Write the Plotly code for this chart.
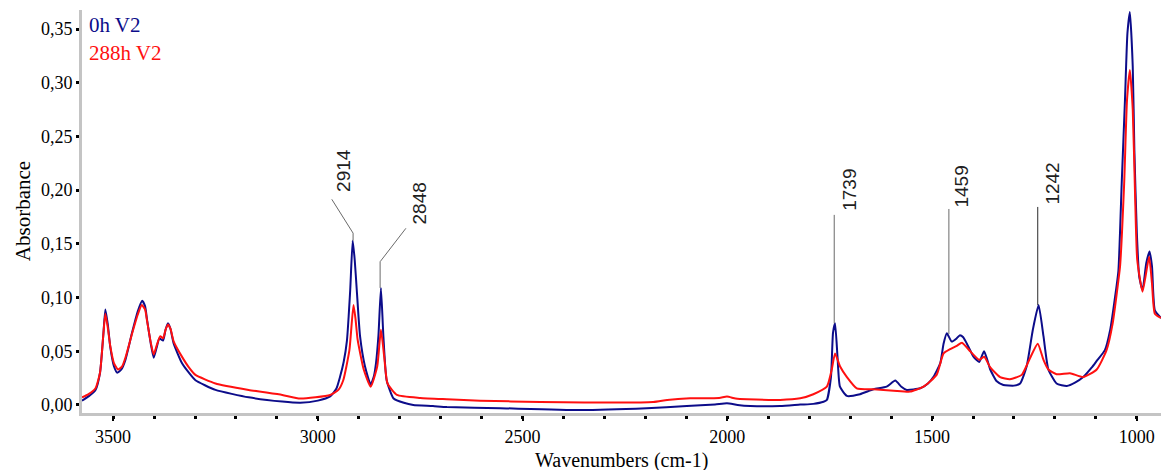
import plotly.graph_objects as go

# ---- data ----
wn_0h = [3576, 3560, 3543, 3532, 3524, 3519, 3513, 3507, 3498, 3490, 3480, 3470, 3454, 3440, 3429, 3422,
         3417, 3408, 3401, 3394, 3387, 3378, 3372, 3366, 3360, 3352, 3332, 3315, 3299, 3250, 3169, 3087,
         3043, 3000, 2970, 2955, 2946, 2937, 2929, 2921, 2915, 2910, 2905, 2897, 2885, 2871, 2863, 2858,
         2852, 2846, 2840, 2832, 2815, 2790, 2767, 2719, 2685, 2555, 2360, 2197, 2099, 2030, 2001, 1975,
         1944, 1871, 1822, 1790, 1765, 1757, 1747, 1742, 1737, 1731, 1725, 1708, 1676, 1643, 1611, 1590,
         1575, 1562, 1529, 1510, 1497, 1480, 1472, 1464, 1452, 1440, 1432, 1424, 1415, 1399, 1385, 1378,
         1373, 1366, 1358, 1342, 1326, 1300, 1285, 1269, 1254, 1240, 1228, 1216, 1196, 1171, 1150, 1131,
         1110, 1098, 1078, 1065, 1053, 1045, 1037, 1029, 1023, 1017, 1010, 1006, 1000, 994, 986, 977,
         969, 963, 956, 941]
abs_0h = [0.004, 0.008, 0.014, 0.030, 0.065, 0.089, 0.075, 0.054, 0.036, 0.030, 0.033, 0.042, 0.067, 0.087, 0.097, 0.092,
          0.079, 0.057, 0.044, 0.053, 0.062, 0.060, 0.070, 0.076, 0.071, 0.057, 0.039, 0.030, 0.023, 0.014, 0.0071, 0.0031,
          0.002, 0.004, 0.008, 0.015, 0.026, 0.040, 0.060, 0.107, 0.153, 0.135, 0.107, 0.064, 0.036, 0.019, 0.027, 0.039,
          0.065, 0.109, 0.064, 0.023, 0.006, 0.002, 0.0, -0.001, -0.002, -0.003, -0.0047, -0.003, -0.001, 0.0005, 0.0016, 0.0,
          -0.001, -0.001, 0.0003, 0.001, 0.003, 0.0047, 0.026, 0.067, 0.076, 0.045, 0.017, 0.0084, 0.010, 0.0146, 0.017, 0.0227,
          0.017, 0.014, 0.0155, 0.020, 0.026, 0.039, 0.057, 0.0667, 0.059, 0.062, 0.065, 0.063, 0.057, 0.045, 0.040, 0.046,
          0.050, 0.043, 0.033, 0.022, 0.0186, 0.018, 0.020, 0.036, 0.070, 0.093, 0.064, 0.033, 0.020, 0.0177, 0.021, 0.026,
          0.035, 0.041, 0.051, 0.070, 0.101, 0.125, 0.206, 0.284, 0.346, 0.366, 0.315, 0.237, 0.160, 0.119, 0.107, 0.132,
          0.143, 0.129, 0.088, 0.081]

wn_288h = [3576, 3560, 3543, 3532, 3524, 3519, 3513, 3507, 3498, 3488, 3478, 3470, 3454, 3440, 3430, 3422,
           3417, 3408, 3401, 3394, 3385, 3378, 3372, 3366, 3360, 3352, 3332, 3315, 3299, 3250, 3169, 3087,
           3043, 2970, 2950, 2938, 2923, 2913, 2908, 2903, 2888, 2871, 2855, 2846, 2838, 2830, 2807, 2750,
           2685, 2604, 2457, 2181, 2147, 2091, 2020, 2001, 1980, 1952, 1871, 1822, 1790, 1757, 1745, 1737,
           1725, 1708, 1684, 1643, 1594, 1554, 1521, 1489, 1472, 1456, 1440, 1427, 1407, 1385, 1373, 1358,
           1334, 1310, 1281, 1261, 1242, 1228, 1216, 1196, 1163, 1131, 1098, 1074, 1059, 1045, 1041, 1031,
           1024, 1017, 1010, 1004, 999, 986, 970, 963, 956, 941]
abs_288h = [0.007, 0.010, 0.0155, 0.030, 0.065, 0.085, 0.072, 0.055, 0.039, 0.033, 0.036, 0.044, 0.066, 0.084, 0.093, 0.089,
            0.078, 0.058, 0.047, 0.055, 0.064, 0.062, 0.070, 0.075, 0.071, 0.059, 0.045, 0.035, 0.028, 0.020, 0.014, 0.0093,
            0.006, 0.0093, 0.014, 0.023, 0.051, 0.093, 0.080, 0.061, 0.033, 0.017, 0.036, 0.070, 0.045, 0.020, 0.0093, 0.0065,
            0.0053, 0.004, 0.0028, 0.0028, 0.0047, 0.0062, 0.0065, 0.0078, 0.006, 0.0053, 0.0047, 0.0062, 0.010, 0.017, 0.033, 0.048,
            0.036, 0.026, 0.0155, 0.0146, 0.0133, 0.0124, 0.017, 0.028, 0.048, 0.052, 0.055, 0.058, 0.050, 0.042, 0.045, 0.035,
            0.026, 0.024, 0.028, 0.0435, 0.057, 0.042, 0.033, 0.0286, 0.0295, 0.026, 0.033, 0.051, 0.076, 0.116, 0.129, 0.206,
            0.284, 0.312, 0.275, 0.191, 0.135, 0.1055, 0.138, 0.113, 0.085, 0.081]

series_names = ["0h V2", "288h V2"]
series_colors = ["#0c0c8a", "#ff1010"]

x_ticks = [3500, 3000, 2500, 2000, 1500, 1000]

# peak labels: wavenumber, peak absorbance, leader-top absorbance
peak_labels = [2914, 2848, 1739, 1459, 1242]
peak_abs = [0.153, 0.109, 0.076, 0.066, 0.093]
leader_top = [0.160, 0.1334, 0.177, 0.1825, 0.1844]
# diagonal leader end (for the two CH peaks) and text centre positions
leader_end_wn = [2966, 2785, None, None, None]
leader_end_abs = [0.1915, 0.1645, None, None, None]
text_wn = [2936, 2752, 1702, 1427, 1207]
text_abs = [0.218, 0.188, 0.2007, 0.2034, 0.2062]

SERIF = "Liberation Serif"
SANS = "Liberation Sans"

fig = go.Figure()
fig.add_trace(go.Scatter(x=wn_0h, y=abs_0h, mode="lines", name=series_names[0],
                         line=dict(color=series_colors[0], width=2, shape="spline", smoothing=0.5)))
fig.add_trace(go.Scatter(x=wn_288h, y=abs_288h, mode="lines", name=series_names[1],
                         line=dict(color=series_colors[1], width=2, shape="spline", smoothing=0.5)))

shapes = []
annotations = []
for i, p in enumerate(peak_labels):
    lc = "#6a6a6a" if p != 1242 else "#2a2a2a"
    shapes.append(dict(type="line", xref="x", yref="y", x0=p, x1=p, y0=peak_abs[i], y1=leader_top[i],
                       line=dict(color=lc, width=1)))
    if leader_end_wn[i] is not None:
        shapes.append(dict(type="line", xref="x", yref="y", x0=p, x1=leader_end_wn[i],
                           y0=leader_top[i], y1=leader_end_abs[i], line=dict(color=lc, width=1)))
    annotations.append(dict(x=text_wn[i], y=text_abs[i], xref="x", yref="y", text=str(p), showarrow=False,
                            textangle=-90, font=dict(family=SANS, size=19, color="#1e1e1e"),
                            xanchor="center", yanchor="middle"))

# legend-like coloured labels
for i, nm in enumerate(series_names):
    annotations.append(dict(x=0.005, y=0.962 - i * 0.069, xref="paper", yref="paper", text=nm, showarrow=False,
                            xanchor="left", yanchor="middle",
                            font=dict(family=SERIF, size=21, color=series_colors[i])))

# axis titles
annotations.append(dict(x=0.5, y=-0.118, xref="paper", yref="paper", text="Wavenumbers (cm-1)",
                        showarrow=False, xanchor="center", yanchor="middle",
                        font=dict(family=SERIF, size=20, color="black")))
annotations.append(dict(x=-0.055, y=0.5, xref="paper", yref="paper", text="Absorbance", textangle=-90,
                        showarrow=False, xanchor="center", yanchor="middle",
                        font=dict(family=SERIF, size=21, color="black")))

fig.update_layout(
    width=1161, height=470,
    margin=dict(l=82, r=0, t=10, b=57, autoexpand=False),
    paper_bgcolor="white", plot_bgcolor="white",
    showlegend=False,
    separators=",.",
    shapes=shapes,
    annotations=annotations,
    font=dict(family=SERIF, size=18, color="black"),
)
fig.update_xaxes(
    range=[3576, 941], autorange=False, automargin=False,
    tickvals=x_ticks, ticks="outside", ticklen=5, tickwidth=2, tickcolor="black",
    minor=dict(dtick=100, ticks="outside", ticklen=3, tickwidth=3, tickcolor="black"),
    showline=True, linecolor="#c4c4c4", linewidth=3, showgrid=False, zeroline=False,
    tickfont=dict(family=SERIF, size=18, color="black"),
)
fig.update_yaxes(
    range=[-0.0075, 0.3678], autorange=False, automargin=False,
    dtick=0.05, tick0=0, tickformat=".2f", ticks="outside", ticklen=3, tickwidth=3, tickcolor="black",
    showline=True, linecolor="#c4c4c4", linewidth=3, showgrid=False, zeroline=False,
    tickfont=dict(family=SERIF, size=18, color="black"),
)

fig.write_html("out.html", config={"displayModeBar": False},
               post_script="document.body.style.margin='0';document.body.style.overflow='hidden';")
